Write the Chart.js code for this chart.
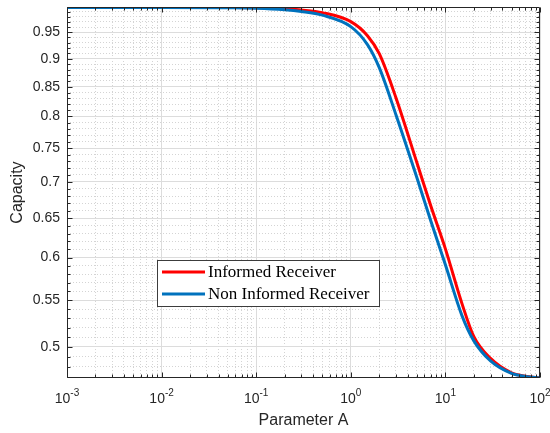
<!DOCTYPE html>
<html>
<head>
<meta charset="utf-8">
<script src="https://cdn.jsdelivr.net/npm/chart.js@4.4.1/dist/chart.umd.min.js"></script>
<style>
    html, body { margin: 0; padding: 0; background: #fff; }
</style>
</head>
<body>
<canvas id="capacityChart" width="550" height="433"></canvas>
<script>
// values
const paramA      = [0.001, 0.01, 0.05, 0.1, 0.2, 0.3, 0.5, 1, 1.5, 2, 3, 5, 7, 10, 15, 20, 30, 50, 70, 100];
const informed    = [0.999, 0.999, 0.9988, 0.9985, 0.9966, 0.9940, 0.9886, 0.9706, 0.9432, 0.9092, 0.8311, 0.7279, 0.6667, 0.6107, 0.5459, 0.5105, 0.4884, 0.4742, 0.4710, 0.4693];
const nonInformed = [0.999, 0.999, 0.9985, 0.9977, 0.9946, 0.9910, 0.9835, 0.9607, 0.9261, 0.8836, 0.8028, 0.7059, 0.6466, 0.5911, 0.5327, 0.5062, 0.4859, 0.4737, 0.4708, 0.4693];

const seriesLabels   = ['Informed Receiver', 'Non Informed Receiver'];
const yTickLabels    = [0.5, 0.55, 0.6, 0.65, 0.7, 0.75, 0.8, 0.85, 0.9, 0.95];
const xTickExponents = [-3, -2, -1, 0, 1, 2];

const xMin = 0.001, xMax = 100;
const yMin = 0.4693, yMax = 1.0;

const axisColor  = '#262626';
const majorGrid  = '#dcdcdc';
const minorGrid  = '#d4d4d4';
const sansFont   = "'Liberation Sans', Arial, sans-serif";
const serifFont  = "'Liberation Serif', 'Times New Roman', serif";

function toPoints(ys) {
    return paramA.map(function (a, i) { return { x: a, y: ys[i] }; });
}

function isMajorTick(ctx) {
    return ctx.tick && ctx.tick.major;
}

// box, inward ticks, 10^n labels and the boxed legend (MATLAB style)
const matlabAxes = {
    id: 'matlabAxes',
    afterDraw: function (chart) {
        const ctx = chart.ctx;
        const area = chart.chartArea;
        const xs = chart.scales.x;
        const ys = chart.scales.y;
        const L = Math.round(area.left) + 0.5, R = Math.round(area.right) - 0.5;
        const T = Math.round(area.top) + 0.5,  B = Math.round(area.bottom) - 0.5;

        ctx.save();
        ctx.strokeStyle = axisColor;
        ctx.lineWidth = 1;
        ctx.beginPath();
        ctx.rect(L, T, R - L, B - T);

        xs.ticks.forEach(function (t) {
            const px = Math.round(xs.getPixelForValue(t.value)) + 0.5;
            const len = t.major ? 5 : 3;
            ctx.moveTo(px, B); ctx.lineTo(px, B - len);
            ctx.moveTo(px, T); ctx.lineTo(px, T + len);
        });
        ys.ticks.forEach(function (t) {
            const py = Math.round(ys.getPixelForValue(t.value)) + 0.5;
            const len = t.major ? 5 : 3;
            ctx.moveTo(L, py); ctx.lineTo(L + len, py);
            ctx.moveTo(R, py); ctx.lineTo(R - len, py);
        });
        ctx.stroke();

        // x tick labels as 10 with a raised exponent
        ctx.fillStyle = axisColor;
        ctx.textBaseline = 'alphabetic';
        xTickExponents.forEach(function (e) {
            const px = xs.getPixelForValue(Math.pow(10, e));
            ctx.font = '14px ' + sansFont;
            const baseW = ctx.measureText('10').width;
            ctx.font = '10px ' + sansFont;
            const expW = ctx.measureText(String(e)).width;
            const x0 = px - (baseW + expW) / 2;
            ctx.font = '14px ' + sansFont;
            ctx.textAlign = 'left';
            ctx.fillText('10', x0, 403);
            ctx.font = '10px ' + sansFont;
            ctx.fillText(String(e), x0 + baseW, 396);
        });

        // legend
        const box = { x: 157.5, y: 260.5, w: 222, h: 46 };
        ctx.fillStyle = '#ffffff';
        ctx.fillRect(box.x, box.y, box.w, box.h);
        ctx.strokeStyle = '#3c3c3c';
        ctx.strokeRect(box.x, box.y, box.w, box.h);
        chart.data.datasets.forEach(function (ds, i) {
            const ly = 272 + i * 22;
            ctx.strokeStyle = ds.borderColor;
            ctx.lineWidth = 3;
            ctx.beginPath();
            ctx.moveTo(162, ly);
            ctx.lineTo(205, ly);
            ctx.stroke();
            ctx.fillStyle = '#000';
            ctx.font = '17px ' + serifFont;
            ctx.textAlign = 'left';
            ctx.textBaseline = 'middle';
            ctx.fillText(ds.label, 208, ly + 1);
        });
        ctx.restore();
    }
};

new Chart(document.getElementById('capacityChart'), {
    type: 'line',
    data: {
        datasets: [{
            label: seriesLabels[0],
            data: toPoints(informed),
            borderColor: '#ff0000',
            borderWidth: 3,
            order: 2,
        }, {
            label: seriesLabels[1],
            data: toPoints(nonInformed),
            borderColor: '#0072bd',
            borderWidth: 3,
            order: 1,
        }]
    },
    options: {
        responsive: false,
        animation: false,
        layout: { padding: { left: 0, right: 10, top: 7, bottom: 0 } },
        elements: {
            point: { radius: 0 },
            line: { cubicInterpolationMode: 'monotone', fill: false }
        },
        plugins: {
            legend: { display: false },
            tooltip: { enabled: false }
        },
        scales: {
            x: {
                type: 'logarithmic',
                min: xMin,
                max: xMax,
                afterBuildTicks: function (scale) {
                    const ticks = [];
                    xTickExponents.forEach(function (e) {
                        for (let m = 1; m <= 9; m++) {
                            const v = m * Math.pow(10, e);
                            if (v > xMax * 1.0001) break;
                            ticks.push({ value: v, major: m === 1 });
                        }
                    });
                    scale.ticks = ticks;
                },
                afterFit: function (scale) {
                    scale.height = 55;
                    scale.paddingLeft = 0;
                    scale.paddingRight = 0;
                },
                ticks: { display: false },
                grid: {
                    drawTicks: false,
                    color: function (ctx) { return isMajorTick(ctx) ? majorGrid : minorGrid; }
                },
                border: {
                    display: false,
                    dash: function (ctx) { return isMajorTick(ctx) ? [] : [1, 2]; }
                },
                title: {
                    display: true,
                    text: 'Parameter A',
                    color: axisColor,
                    padding: { top: 4, bottom: 3 },
                    font: { family: sansFont, size: 16 }
                }
            },
            y: {
                type: 'logarithmic',
                min: yMin,
                max: yMax,
                afterBuildTicks: function (scale) {
                    const ticks = [];
                    for (let i = 47; i <= 99; i++) {
                        const v = i / 100;
                        ticks.push({ value: v, major: yTickLabels.some(function (t) { return Math.abs(t - v) < 1e-9; }) });
                    }
                    scale.ticks = ticks;
                },
                afterFit: function (scale) {
                    scale.width = 67;
                    scale.paddingTop = 0;
                    scale.paddingBottom = 0;
                },
                ticks: {
                    autoSkip: false,
                    padding: 7,
                    color: axisColor,
                    font: { family: sansFont, size: 14 },
                    callback: function (value, index, ticks) {
                        return ticks[index].major ? String(value) : '';
                    }
                },
                grid: {
                    drawTicks: false,
                    color: function (ctx) { return isMajorTick(ctx) ? majorGrid : minorGrid; }
                },
                border: {
                    display: false,
                    dash: function (ctx) { return isMajorTick(ctx) ? [] : [1, 2]; }
                },
                title: {
                    display: true,
                    text: 'Capacity',
                    color: axisColor,
                    padding: { top: 8, bottom: 4 },
                    font: { family: sansFont, size: 16 }
                }
            }
        }
    },
    plugins: [matlabAxes]
});
</script>
</body>
</html>
